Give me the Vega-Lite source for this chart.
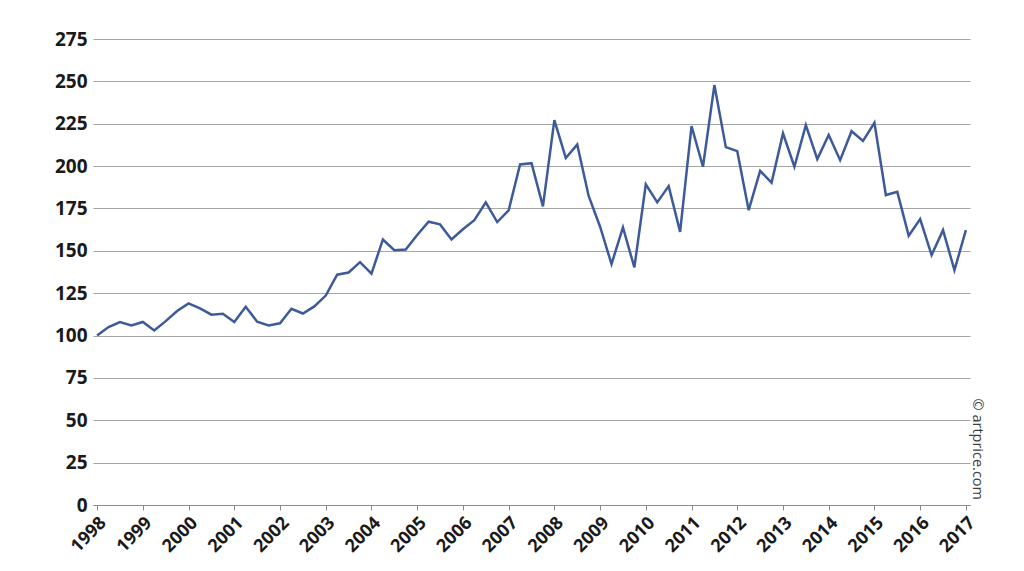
{
  "$schema": "https://vega.github.io/schema/vega-lite/v6.json",
  "autosize": "none",
  "width": 877,
  "height": 466,
  "padding": {"left": 93, "top": 39, "right": 54, "bottom": 66},
  "background": "white",
  "title": {
    "text": "© artprice.com",
    "orient": "right",
    "anchor": "end",
    "frame": "group",
    "offset": -9,
    "dx": -5,
    "fontSize": 14.5,
    "font": "Open Sans",
    "fontWeight": "normal",
    "color": "#404040"
  },
  "config": {
    "view": {"stroke": null},
    "axis": {"labelFont": "Open Sans", "labelFontWeight": "bold", "labelColor": "#1a1a1a"}
  },
  "data": {
    "values": [
      {"t": 1998.00, "index": 100},
      {"t": 1998.25, "index": 105},
      {"t": 1998.50, "index": 108},
      {"t": 1998.75, "index": 106},
      {"t": 1999.00, "index": 108},
      {"t": 1999.25, "index": 103},
      {"t": 1999.50, "index": 108.5},
      {"t": 1999.75, "index": 114.5},
      {"t": 2000.00, "index": 119},
      {"t": 2000.25, "index": 116},
      {"t": 2000.50, "index": 112.3},
      {"t": 2000.75, "index": 112.8},
      {"t": 2001.00, "index": 108},
      {"t": 2001.25, "index": 117},
      {"t": 2001.50, "index": 108.2},
      {"t": 2001.75, "index": 106},
      {"t": 2002.00, "index": 107.2},
      {"t": 2002.25, "index": 115.8},
      {"t": 2002.50, "index": 113},
      {"t": 2002.75, "index": 117.2},
      {"t": 2003.00, "index": 123.6},
      {"t": 2003.25, "index": 135.9},
      {"t": 2003.50, "index": 137.2},
      {"t": 2003.75, "index": 143.3},
      {"t": 2004.00, "index": 136.5},
      {"t": 2004.25, "index": 156.7},
      {"t": 2004.50, "index": 150.4},
      {"t": 2004.75, "index": 150.8},
      {"t": 2005.00, "index": 159.3},
      {"t": 2005.25, "index": 167.2},
      {"t": 2005.50, "index": 165.6},
      {"t": 2005.75, "index": 156.7},
      {"t": 2006.00, "index": 162.7},
      {"t": 2006.25, "index": 168.1},
      {"t": 2006.50, "index": 178.6},
      {"t": 2006.75, "index": 167},
      {"t": 2007.00, "index": 173.8},
      {"t": 2007.25, "index": 201},
      {"t": 2007.50, "index": 201.7},
      {"t": 2007.75, "index": 176.2},
      {"t": 2008.00, "index": 227.1},
      {"t": 2008.25, "index": 204.8},
      {"t": 2008.50, "index": 212.7},
      {"t": 2008.75, "index": 182.4},
      {"t": 2009.00, "index": 164.2},
      {"t": 2009.25, "index": 142.2},
      {"t": 2009.50, "index": 163.8},
      {"t": 2009.75, "index": 140.2},
      {"t": 2010.00, "index": 189.2},
      {"t": 2010.25, "index": 178.6},
      {"t": 2010.50, "index": 188.2},
      {"t": 2010.75, "index": 161.2},
      {"t": 2011.00, "index": 223.6},
      {"t": 2011.25, "index": 199.6},
      {"t": 2011.50, "index": 247.8},
      {"t": 2011.75, "index": 211.2},
      {"t": 2012.00, "index": 208.8},
      {"t": 2012.25, "index": 174},
      {"t": 2012.50, "index": 197.2},
      {"t": 2012.75, "index": 190.2},
      {"t": 2013.00, "index": 219.3},
      {"t": 2013.25, "index": 199.6},
      {"t": 2013.50, "index": 224.2},
      {"t": 2013.75, "index": 204.1},
      {"t": 2014.00, "index": 218.3},
      {"t": 2014.25, "index": 203.5},
      {"t": 2014.50, "index": 220.6},
      {"t": 2014.75, "index": 214.9},
      {"t": 2015.00, "index": 225.6},
      {"t": 2015.25, "index": 182.9},
      {"t": 2015.50, "index": 184.8},
      {"t": 2015.75, "index": 158.9},
      {"t": 2016.00, "index": 168.7},
      {"t": 2016.25, "index": 147.5},
      {"t": 2016.50, "index": 162.2},
      {"t": 2016.75, "index": 138.6},
      {"t": 2017.00, "index": 162.2}
    ]
  },
  "mark": {"type": "line", "color": "#3d5a99", "strokeWidth": 2.5, "strokeJoin": "miter"},
  "encoding": {
    "x": {
      "field": "t",
      "type": "quantitative",
      "scale": {"domain": [1997.91, 2017.09], "nice": false, "zero": false},
      "axis": {
        "title": null,
        "grid": false,
        "values": [1998, 1999, 2000, 2001, 2002, 2003, 2004, 2005, 2006, 2007, 2008, 2009, 2010, 2011, 2012, 2013, 2014, 2015, 2016, 2017],
        "format": "d",
        "labelAngle": -45,
        "labelAlign": "right",
        "labelBaseline": "middle",
        "labelFontSize": 18,
        "labelPadding": 10,
        "labelOffset": 6,
        "labelOverlap": false,
        "labelBound": false,
        "labelFlush": false,
        "domainColor": "#8c8c8c",
        "domainWidth": 1,
        "tickColor": "#8c8c8c",
        "tickSize": 5
      }
    },
    "y": {
      "field": "index",
      "type": "quantitative",
      "scale": {"domain": [0, 275], "nice": false},
      "axis": {
        "title": null,
        "values": [0, 25, 50, 75, 100, 125, 150, 175, 200, 225, 250, 275],
        "domain": false,
        "ticks": false,
        "grid": true,
        "gridColor": "#a6a6a6",
        "gridWidth": 1,
        "labelFontSize": 19,
        "labelPadding": 6
      }
    }
  }
}
